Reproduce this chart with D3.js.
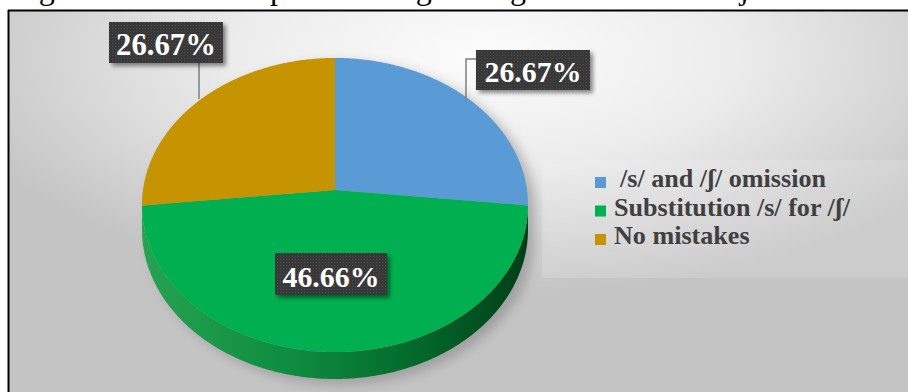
<!DOCTYPE html>
<html>
<head>
<meta charset="utf-8">
<script src="https://cdn.jsdelivr.net/npm/d3@7/dist/d3.min.js"></script>
<style>
  html, body { margin: 0; padding: 0; background: #ffffff; }
  svg { display: block; }
</style>
</head>
<body>
<svg id="chart" width="908" height="392"></svg>
<script>
// Error categories and their shares (%)
const categories = ["/s/ and /ʃ/ omission", "Substitution /s/ for /ʃ/", "No mistakes"];
const values = [26.67, 46.66, 26.67];
const valueLabels = ["26.67%", "46.66%", "26.67%"];
const colors = ["#5b9bd5", "#00b050", "#c59400"];

const SERIF = "'Liberation Serif', Tinos, 'Times New Roman', serif";

const svg = d3.select("#chart");
const W = 908, H = 392;
const defs = svg.append("defs");

// shrink/grow a text's font size so it spans the wanted width
function fitWidth(sel, target) {
  const w = sel.node().getComputedTextLength();
  const fs = parseFloat(sel.attr("font-size"));
  const nfs = w > 0 ? fs * target / w : fs;
  sel.attr("font-size", nfs);
  return nfs;
}

// ---- caption line above the frame (only its lowest part fits on the page)
const cap = svg.append("text")
  .attr("y", -1.5)
  .attr("font-family", SERIF)
  .attr("font-size", 32)
  .attr("fill", "#000");
cap.append("tspan").attr("x", 12).text("Figure 3: Students' ");
cap.append("tspan").attr("x", 270).text("pronouncing of English");
cap.append("tspan").attr("x", 638).text("/s/ and /ʃ/");

// ---- chart area background
const bg = defs.append("radialGradient").attr("id", "bgGrad")
  .attr("cx", 0.53).attr("cy", 0.12).attr("r", 0.62).attr("fx", 0.53).attr("fy", 0.12);
bg.append("stop").attr("offset", 0).attr("stop-color", "#fcfcfc");
bg.append("stop").attr("offset", 0.45).attr("stop-color", "#ececec");
bg.append("stop").attr("offset", 1).attr("stop-color", "#c4c4c4");

const frame = { x: 9, y: 10, w: W - 9, h: H - 10 };
svg.append("rect")
  .attr("x", frame.x).attr("y", frame.y).attr("width", frame.w).attr("height", frame.h)
  .attr("fill", "url(#bgGrad)");
svg.append("line").attr("x1", frame.x - 1).attr("x2", W).attr("y1", frame.y + 0.5).attr("y2", frame.y + 0.5)
  .attr("stroke", "#000").attr("stroke-width", 2);
svg.append("line").attr("x1", frame.x - 0.5).attr("x2", frame.x - 0.5).attr("y1", frame.y).attr("y2", H)
  .attr("stroke", "#000").attr("stroke-width", 2);

// ---- 3D pie geometry: tilted disc seen with mild perspective
const P = { cx: 335, cy: 190, A: 192, B: 145.5, k: 0.102, depth: 24.2 };
function proj(theta, r, dz) {
  const u = r * Math.sin(theta), v = -r * Math.cos(theta);
  const p = 1 / (1 - P.k * v);
  return [P.cx + P.A * u * p, P.cy + P.B * v * p + dz * p];
}
function arcPoints(a0, a1, dz) {
  const n = Math.max(2, Math.ceil((a1 - a0) / 0.01));
  return d3.range(n + 1).map(i => proj(a0 + (a1 - a0) * i / n, 1, dz));
}
const line = d3.line();

const pie = d3.pie().sort(null).value(d => d).startAngle(0).endAngle(2 * Math.PI);
const arcs = pie(values);

// silhouette limits: where the rim's screen x is extremal
const vis0 = Math.acos(-P.k), vis1 = 2 * Math.PI - Math.acos(-P.k);

// soft shadow of the whole pie
const shadowF = defs.append("filter").attr("id", "pieShadow")
  .attr("x", "-20%").attr("y", "-20%").attr("width", "140%").attr("height", "140%");
shadowF.append("feGaussianBlur").attr("stdDeviation", 6);

const outline = arcPoints(0, 2 * Math.PI, 0);
const sideOutline = arcPoints(vis0, vis1, 0).concat(arcPoints(vis0, vis1, P.depth).reverse());
const gShadow = svg.append("g").attr("filter", "url(#pieShadow)").attr("opacity", 0.45)
  .attr("transform", "translate(7,5)");
gShadow.append("path").attr("d", line(outline) + "Z").attr("fill", "#707070");
gShadow.append("path").attr("d", line(sideOutline) + "Z").attr("fill", "#707070");

// side shading, lit from the left
const sideGrad = defs.append("linearGradient").attr("id", "sideGrad")
  .attr("gradientUnits", "userSpaceOnUse")
  .attr("x1", P.cx - P.A).attr("x2", P.cx + P.A).attr("y1", 0).attr("y2", 0);
[[0, "#26a351"], [0.4, "#0d8b3e"], [0.7, "#036a2c"], [1, "#003f18"]].forEach(s =>
  sideGrad.append("stop").attr("offset", s[0]).attr("stop-color", s[1]));

const pieG = svg.append("g");
arcs.forEach((a, i) => {
  const s = Math.max(a.startAngle, vis0), e = Math.min(a.endAngle, vis1);
  if (e > s) {
    const pts = arcPoints(s, e, 0).concat(arcPoints(s, e, P.depth).reverse());
    pieG.append("path").attr("d", line(pts) + "Z")
      .attr("fill", i === 1 ? "url(#sideGrad)" : d3.color(colors[i]).darker(1.2));
  }
});
arcs.forEach((a, i) => {
  const pts = [[P.cx, P.cy]].concat(arcPoints(a.startAngle, a.endAngle, 0));
  pieG.append("path").attr("d", line(pts) + "Z").attr("fill", colors[i]);
});

// ---- data labels: dark textured boxes with drop shadow
const tex = defs.append("pattern").attr("id", "boxTex")
  .attr("patternUnits", "userSpaceOnUse").attr("width", 3).attr("height", 3);
tex.append("rect").attr("width", 3).attr("height", 3).attr("fill", "#383838");
tex.append("rect").attr("x", 1).attr("y", 1).attr("width", 1).attr("height", 1).attr("fill", "#4e4e4e");

const dropF = defs.append("filter").attr("id", "boxShadow")
  .attr("x", "-20%").attr("y", "-30%").attr("width", "150%").attr("height", "170%");
dropF.append("feDropShadow").attr("dx", 3).attr("dy", 3).attr("stdDeviation", 2.2)
  .attr("flood-color", "#000").attr("flood-opacity", 0.45);

// box placement for each slice label, plus leader polyline (if any)
const labelLayout = [
  { x: 476, y: 50, w: 114, h: 40, textW: 97, leader: [[476, 59], [466, 59], [466, 100]] },
  { x: 275, y: 253, w: 112, h: 42, textW: 97, leader: null },
  { x: 109, y: 22, w: 114, h: 41, textW: 100, leader: [[199, 63], [199, 99]] }
];

arcs.forEach((a, i) => {
  const L = labelLayout[i];
  if (L.leader) {
    svg.append("path").attr("d", line(L.leader)).attr("fill", "none")
      .attr("stroke", "#7f7f7f").attr("stroke-width", 1.5);
  }
  svg.append("rect").attr("x", L.x).attr("y", L.y).attr("width", L.w).attr("height", L.h)
    .attr("fill", "url(#boxTex)").attr("filter", "url(#boxShadow)");
  const t = svg.append("text")
    .attr("x", L.x + L.w / 2).attr("y", L.y + L.h - 8)
    .attr("text-anchor", "middle")
    .attr("font-family", SERIF)
    .attr("font-weight", "bold").attr("font-size", 30)
    .attr("fill", "#ffffff")
    .text(valueLabels[i]);
  fitWidth(t, L.textW);
});

// ---- legend
const legG = svg.append("g");
legG.append("rect").attr("x", 542).attr("y", 160).attr("width", W - 542).attr("height", 118)
  .attr("fill", "#ffffff").attr("opacity", 0.14);
const legY = d3.scalePoint().domain(categories).range([187, 244]);
const legTexts = categories.map((c, i) => {
  const y = legY(c);
  legG.append("rect").attr("x", 595).attr("y", y - 10).attr("width", 11).attr("height", 11)
    .attr("fill", colors[i]);
  return legG.append("text")
    .attr("x", i === 0 ? 620 : 614).attr("y", y)
    .attr("font-family", SERIF)
    .attr("font-weight", "bold").attr("font-size", 26)
    .attr("fill", "#404040")
    .text(c);
});
// one size for all entries, set by the longest one
const legSize = fitWidth(legTexts[1], 236);
legTexts.forEach(t => t.attr("font-size", legSize));
</script>
</body>
</html>
